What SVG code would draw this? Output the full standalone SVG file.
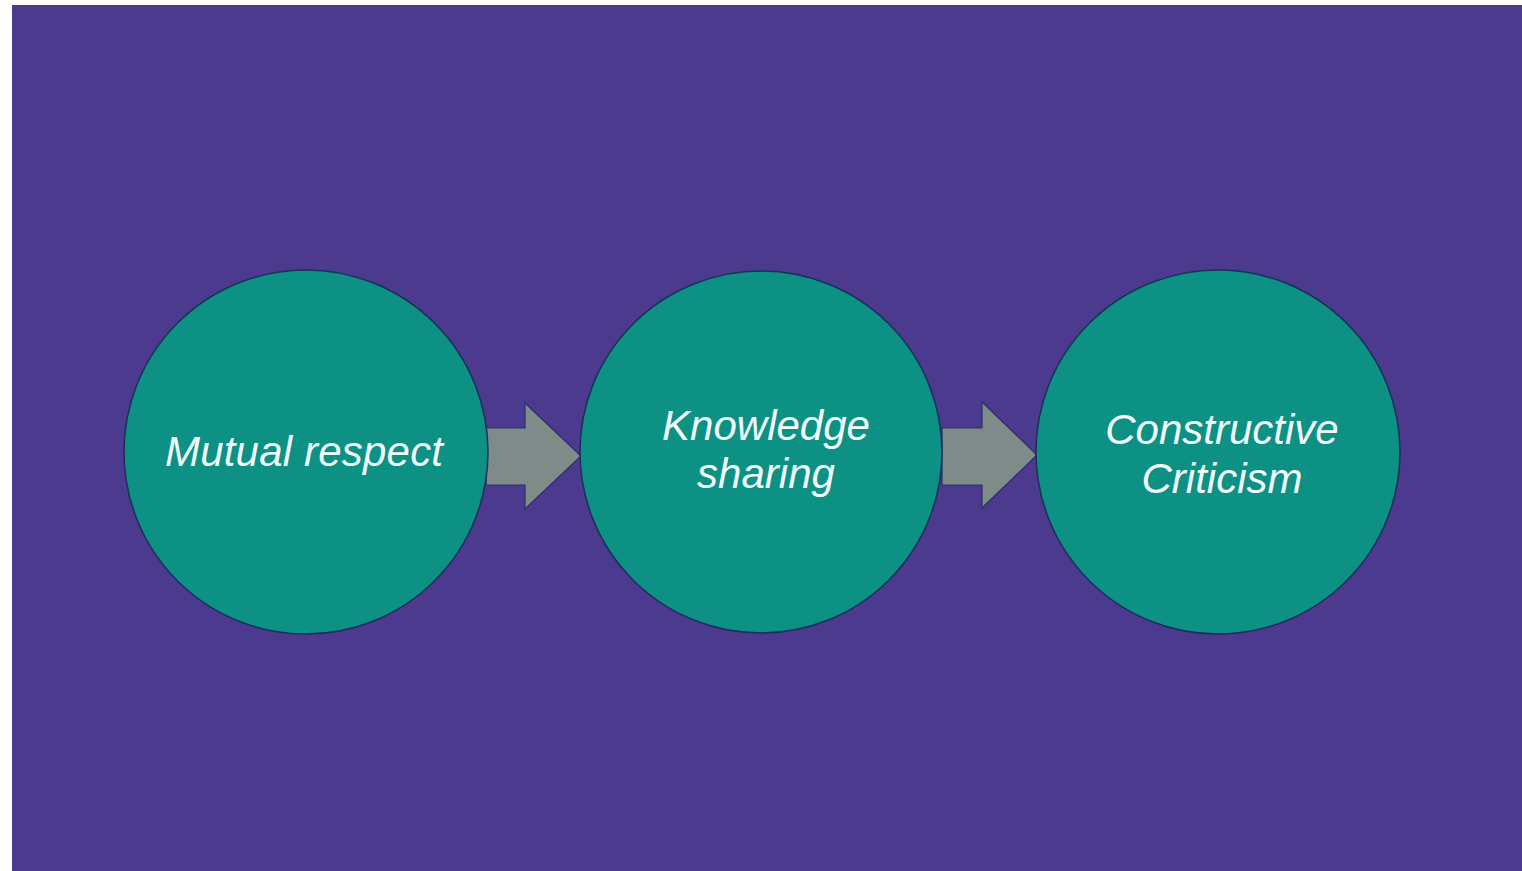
<svg xmlns="http://www.w3.org/2000/svg" width="1522" height="871" viewBox="0 0 1522 871">
<style>
.node{fill:#0d9184;stroke:#1a2f5c;stroke-width:1.5}
.lbl{font-family:"Liberation Sans",Arial,sans-serif;font-style:italic;font-size:42px;fill:#f2fbfb;text-anchor:middle}
.arrow{fill:#7e8b89;stroke:#2a2f6a;stroke-width:1.2}
</style>
<rect x="0" y="0" width="1522" height="871" fill="#ffffff"/>
<rect x="12" y="5" width="1510" height="866" fill="#4b3a8e"/>
<g id="connectors">
<path class="arrow" d="M486 428 H525 V403 L581 456 L525 509 V485 H486 Z"/>
<path class="arrow" d="M942 428 H982 V402 L1037 455 L982 508 V485 H942 Z"/>
</g>
<g id="node-mutual-respect">
<circle class="node" cx="306" cy="452" r="182"/>
<text class="lbl" x="304" y="466" textLength="278" lengthAdjust="spacing">Mutual respect</text>
</g>
<g id="node-knowledge-sharing">
<circle class="node" cx="761" cy="452" r="181"/>
<text class="lbl" x="766" y="440">Knowledge</text>
<text class="lbl" x="766" y="488">sharing</text>
</g>
<g id="node-constructive-criticism">
<circle class="node" cx="1218" cy="452" r="182"/>
<text class="lbl" x="1222" y="444">Constructive</text>
<text class="lbl" x="1222" y="493">Criticism</text>
</g>
</svg>
